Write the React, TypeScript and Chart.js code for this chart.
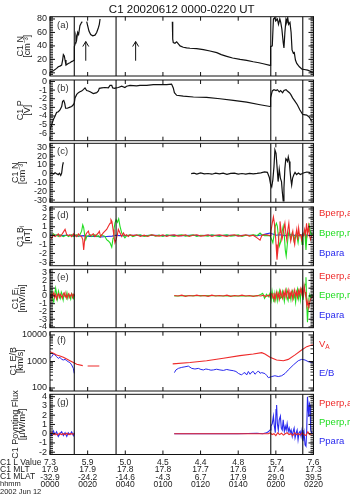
import React, { useEffect, useRef } from "react";
import { Chart, registerables } from "chart.js";
Chart.register(...registerables);

type Pt = [number, number | null];

const FONT = '"Liberation Sans", Arial, Helvetica, sans-serif';
const RED = "#ee2a2a";
const GREEN = "#22dd22";
const BLUE = "#2a2aee";
const INK = "#111111";
const TXT = "#222222";

// ---------- time axis (minutes after 00:00 UT) ----------
const titleText = "C1 20020612 0000-0220 UT";
const timeTicks = [0, 20, 40, 60, 80, 100, 120, 140];
const lValues = ["7.3", "5.9", "5.0", "4.5", "4.4", "4.8", "5.7", "7.6"];
const mltValues = ["17.9", "17.9", "17.8", "17.8", "17.7", "17.6", "17.4", "17.3"];
const mlatValues = ["-32.9", "-24.2", "-14.6", "-4.3", "6.7", "17.9", "29.0", "39.5"];
const hhmmLabels = ["0000", "0020", "0040", "0100", "0120", "0140", "0200", "0220"];
const rowHeaders = ["C1 L Value", "C1 MLT", "C1 MLAT", "hhmm", "2002 Jun 12"];
const markerTimes = [12.9, 35.1, 117.3, 134.3];
const arrowTimes = [19.0, 45.5];
const arrowFromTo = [18, 46.5];

// ---------- y tick values ----------
const nTicks = [0, 20, 40, 60, 80];
const pTicks = [-6, -5, -4, -3, -2, -1, 0];
const dnTicks = [-30, -20, -10, 0, 10, 20, 30];
const bTicks = [-3, -2, -1, 0, 1, 2, 3];
const eTicks = [-4, -3, -2, -1, 0, 1, 2, 3];
const vTicks = [100, 1000, 10000];
const sTicks = [-2, -1, 0, 1, 2, 3, 4];

// ---------- (a) density ----------
const density: Pt[] = [
  [0, 1.5], [1.8, 3], [3.5, 6.6], [4.4, 9], [5.3, 10], [6.2, 11.6], [6.7, 19], [7.1, 27], [7.6, 25], [8.0, 19],
  [8.5, 11.6], [9.7, 14], [10.6, 15], [11.5, 16.7], [12.4, 18], [12.9, 19], [12.95, 39], [13.5, 44.5], [13.8, 55],
  [14.2, 50], [14.7, 60], [15.2, 57], [15.9, 70], [16.8, 75], [17.2, 76], [18, null],
  [19.5, 76], [20.0, 70], [20.7, 62], [21.6, 57], [22.7, 55], [23.9, 56], [24.8, 60], [25.7, 67], [26.2, 72], [26.6, 80],
  [40, null],
  [65.0, 76], [65.2, 50], [65.5, 45], [66.4, 44], [67.3, 46], [68.2, 43], [69.1, 40], [70.8, 38], [72.6, 37],
  [74.4, 36.5], [77.9, 36], [81.5, 34.5], [85.0, 32.5], [88.6, 30], [91, 27], [93.9, 24.5], [97, 22], [101, 20],
  [104.5, 18.5], [108, 16.5], [111, 15], [113.3, 13.5], [116.9, 11],
  [117.2, 39], [118.1, 40], [118.7, 80], [119.4, 82], [119.9, 77], [120.8, 80], [121.4, 72], [122.1, 80], [122.6, 75],
  [123.2, 65], [123.9, 45], [124.3, 37], [124.8, 60], [125.4, 80], [125.9, 77], [126.3, 82], [126.8, 72], [127.5, 75],
  [128.1, 60], [128.6, 34], [129.3, 29], [129.8, 30], [130.4, 19], [131.1, 14], [132.5, 9], [133.9, 5.5], [135.1, 5],
  [136.9, 4], [139, 1.5], [140, 1],
];

// ---------- (b) potential ----------
const potential: Pt[] = [
  [0, -5.6], [0.9, -5.0], [1.8, -4.4], [2.7, -4.0], [3.5, -3.6], [4.4, -3.5], [5.3, -3.3], [6.2, -2.9], [6.7, -2.3],
  [7.3, -2.2], [7.8, -2.5], [8.3, -3.1], [9.2, -3.1], [10.3, -3.0], [11.5, -2.9], [12.4, -2.7], [12.9, -2.5],
  [13.3, -1.9], [14.2, -1.5], [15.1, -1.3], [15.9, -1.2], [16.8, -1.1], [17.7, -0.95], [18.6, -0.75], [19.5, -1.05],
  [20.4, -1.1], [21.3, -1.2], [23.0, -1.4], [24.8, -1.3], [25.7, -1.1], [26.2, -0.8], [27.5, -0.75], [29.2, -0.7],
  [31.0, -0.75], [31.9, -0.45], [32.8, -0.45], [33.3, -0.75], [34.5, -0.8], [35.1, -0.75], [36.3, -0.7], [38.1, -0.55],
  [39.8, -0.7], [40.7, -0.55], [42.5, -0.45], [46.0, -0.5], [47.8, -0.45], [51.4, -0.45], [54.9, -0.37], [58.4, -0.37],
  [62.0, -0.37], [64.6, -0.3], [65.5, -0.75], [66.1, -1.3], [67.3, -1.6], [70.8, -1.7], [76.2, -1.8], [83.2, -1.85],
  [90.3, -2.0], [97.4, -2.2], [104.5, -2.4], [111.6, -2.7], [116.9, -2.9], [117.2, -1.9], [118.1, -1.1], [119.0, -0.95],
  [120.1, -1.05], [120.8, -0.95], [121.8, -1.2], [122.5, -1.05], [123.6, -1.3], [124.3, -1.05], [125.4, -0.95],
  [126.1, -1.1], [127.2, -1.3], [127.9, -1.5], [128.9, -1.9], [130.2, -2.3], [131.4, -2.7], [132.8, -3.3], [134.2, -3.8],
  [134.9, -3.85], [136.4, -3.9], [137.8, -4.15], [139.0, -4.6],
];

// ---------- (c) density perturbation ----------
const densityPert: Pt[] = [
  [0, 0], [0.9, 0.8], [1.8, -0.4], [2.7, 1.0], [3.5, 0], [4.4, -1.1], [5.0, 0.5], [5.7, -1.9], [6.2, 0.8], [6.7, 9.5],
  [7.1, 13], [8, null],
  [75, 0], [76.5, 0.5], [78, -0.5], [80, 0.8], [82, -0.3], [84, 0.2], [86, -0.6], [88, 0.7], [90, -0.2], [92, 0.5],
  [94, -0.8], [96, 0.3], [98, 0.6], [100, -0.4], [102, 0.2], [104, -0.5], [106, 0.4], [108, -0.2], [110, 0.3],
  [112, 1.0], [114, 2.0], [115.5, 1.5], [116.5, -4], [117.2, -12], [117.8, -15], [118.4, -7], [119.0, 8], [119.5, 27],
  [120.1, 23], [120.7, 6], [121.2, -9], [121.8, 5], [122.4, -5], [123.0, -9], [123.4, -20], [123.9, -31], [124.3, -16],
  [124.8, 6], [125.3, 17], [125.7, 16], [126.2, 14], [126.6, 19], [127.1, 14], [127.5, 4], [127.9, -5], [128.4, -13],
  [128.9, -5], [129.6, -1], [130.2, 1.5], [131, -1], [132, 0.8], [133, -1], [134.6, 0.8], [136.4, 1.9], [137.8, 1.5],
  [139, -0.4],
];

// ---------- (d) magnetic field ----------
const bPerpA: Pt[] = [
  [0, -0.1], [0.9, -0.3], [1.8, 0.1], [2.7, -0.1], [3.5, 0], [4.4, 0.2], [5.3, -0.1], [6.2, 0.1], [7.1, 0.4], [8.0, 0.7],
  [8.9, 0.1], [9.7, 0], [10.6, 0.1], [11.5, -0.1], [12.4, 0.2], [12.9, 0], [13.3, 0.1], [14.2, -0.1], [15.1, 0.2],
  [15.9, 0], [16.8, -0.1], [17.4, -0.45], [17.9, -1.6], [18.4, -0.45], [19.0, 0.1], [19.5, 0.3], [20.4, 0.5], [20.9, 0.1],
  [21.6, 0], [22.3, 0.1], [23.0, 0.2], [23.9, -0.1], [24.8, 0.1], [25.7, 0.3], [26.2, 0.5], [26.9, -0.1], [27.6, 0.1],
  [28.3, 0.3], [29.2, 0.5], [30.1, 0.7], [31.0, 1.05], [31.9, 1.4], [32.4, 1.8], [32.9, 1.6], [33.5, 0.7], [34.0, -0.1],
  [34.5, -0.8], [35.1, -0.45], [35.8, 0.1], [36.3, 0.7], [37.2, 0.3], [38.1, -0.1], [39.0, 0.3], [39.8, 0], [40.7, 0.1],
  [41.6, -0.1], [42.5, 0.1], [44.3, 0], [46, 0.1], [48, -0.1], [50, 0.05], [52, -0.1], [54, 0.1], [56, 0], [58, -0.05],
  [60, 0.1], [62, -0.1], [64, 0.05], [66, 0.1], [68, -0.05], [70, 0], [72, 0.1], [74, -0.1], [76, 0.05], [78, 0.1],
  [80, -0.05], [82, 0], [84, 0.1], [86, -0.1], [88, 0.05], [90, 0.1], [92, 0], [94, -0.1], [96, 0.05], [98, 0.1],
  [100, -0.05], [102, 0], [104, 0.1], [106, -0.05], [108, 0.05], [110, -0.25], [111.6, -0.5], [112.5, 0], [113.4, 0.1],
  [115.1, 0.1], [116.9, 0], [117.4, 0.5], [118.1, 1.4], [118.7, 2.1], [119.2, 1.4], [119.7, 0.3], [120.1, -1.0],
  [120.6, -2.7], [121.1, -1.6], [121.7, 0.3], [122.2, 1.6], [122.7, 0.7], [123.2, -0.45], [123.7, 0], [124.3, 0.85],
  [124.8, 1.4], [125.3, 0.3], [125.8, -0.45], [126.4, 0.7], [126.9, 1.4], [127.4, 0.1], [127.9, -0.6], [128.4, 0],
  [129.0, 0.5], [129.5, -0.45], [130.0, -1.0], [130.5, 0], [131.1, 0.7], [131.6, -0.45], [132.1, 0.85], [132.6, 0],
  [133.2, 0.1], [133.7, -0.45], [134.2, 0.2], [134.7, 0], [135.3, 0.7], [135.8, 0.1], [136.3, 1.4], [136.8, 0.2],
  [137.4, 1.05], [137.9, 0], [138.4, -0.45], [139, 0], [140, 0.1],
];
const bPerpR: Pt[] = [
  [0, 0.1], [0.9, 0], [1.8, 0.2], [2.7, 0.05], [3.5, 0.1], [4.4, -0.1], [5.3, 0.1], [6.2, 0], [7.1, -0.1], [8.0, 0],
  [8.9, 0.1], [9.7, -0.1], [10.6, 0], [11.5, 0.1], [12.4, -0.1], [13.3, 0], [14.2, 0.1], [15.1, -0.1], [15.9, 0.1],
  [16.8, 0.5], [17.4, 1.2], [17.9, 0.9], [18.4, 0.1], [19.0, -0.45], [19.5, -0.1], [20.4, 0], [21.3, 0.1], [22.1, -0.1],
  [23.0, 0], [23.9, 0.1], [24.8, -0.1], [25.7, 0], [26.6, -0.2], [27.5, 0.1], [28.3, 0], [29.2, -0.1], [30.1, -0.45],
  [31.0, -0.6], [31.9, -0.8], [32.8, -1.3], [33.5, -0.3], [34.0, 0.7], [34.5, 1.4], [35.1, 1.8], [35.8, 1.5],
  [36.5, 1.9], [37.2, 1.05], [38.1, 0.3], [39.0, 0], [39.8, -0.25], [40.7, 0], [42.5, 0.1], [44, -0.1], [46, 0.05],
  [48, 0.1], [50, -0.1], [52, 0], [54, 0.1], [56, -0.05], [58, 0.05], [60, -0.1], [62, 0.1], [64, 0], [66, -0.1],
  [68, 0.05], [70, 0.1], [72, -0.05], [74, 0], [76, 0.1], [78, -0.1], [80, 0.05], [82, 0], [84, -0.05], [86, 0.1],
  [88, 0], [90, -0.1], [92, 0.05], [94, 0.1], [96, -0.05], [98, 0], [100, 0.1], [102, -0.1], [104, 0.05], [106, 0],
  [108, 0.1], [110, 0], [111.6, 0.3], [112.5, 0.1], [114, 0], [116.9, 0], [117.8, -0.45], [118.4, -0.8], [119.0, 0],
  [119.7, 1.05], [120.3, 1.4], [120.8, 1.05], [121.3, 0], [121.8, -1.2], [122.4, -0.8], [122.9, -0.2], [123.4, 0.5],
  [123.9, 1.05], [124.5, 0], [125.0, -1.6], [125.5, -2.3], [126.0, -1.2], [126.6, 0.1], [127.1, 0.5], [127.6, 0],
  [128.1, -0.3], [128.7, 0.3], [129.2, 0], [129.7, -0.6], [130.2, 0], [130.8, 0.1], [131.3, -0.2], [131.8, -0.8],
  [132.3, 0], [132.9, 0.1], [133.4, 0], [133.9, -1.0], [134.4, 0], [135.0, 0.3], [135.5, 0.1], [136.0, -1.6],
  [136.5, 0], [137.1, 0.5], [137.6, 1.4], [138.1, 0.7], [138.7, 0.1], [139.2, 0.2], [140, 0],
];
const bPara: Pt[] = [
  [0, 0.1], [3, 0.05], [6, 0], [9, 0.05], [12, 0], [15, -0.05], [18, 0], [21, -0.1], [24, -0.05], [27, -0.15],
  [30, -0.1], [33, -0.05], [35, 0.05], [37, 0], [40, 0], [45, 0.05], [50, 0], [55, 0.05], [60, 0], [65, 0.05], [70, 0],
  [75, 0.05], [80, 0], [85, 0.05], [90, 0], [95, 0.05], [100, 0], [105, 0.05], [110, 0], [113, 0.1], [115, 0.2],
  [117, 0.3], [118, 0.2], [120, 0.05], [122, 0.1], [125, 0], [128, 0.1], [131, 0], [134, 0.1], [137, 0.05], [140, 0.1],
];

// ---------- (e) electric field ----------
const ePerpA: Pt[] = [
  [0, 0.2], [0.5, -0.3], [1.0, 0.3], [1.5, 0], [2.0, 0.4], [2.5, -0.2], [3.0, 0.2], [3.5, -0.4], [4.0, 0.1], [4.5, 0.3],
  [5.0, -0.2], [5.5, 0.2], [6.0, 0], [6.5, -0.3], [7.0, 0.2], [7.5, 0.4], [8.0, -0.1], [8.5, 0.2], [9.0, -0.3],
  [9.5, 0.1], [10.0, 0.3], [10.5, -0.2], [11.0, 0.1], [11.5, 0.3], [12.0, -0.2], [12.5, 0.2], [13.0, 0], [14, null],
  [66, 0.05], [68, 0], [70, 0.1], [72, -0.05], [74, 0.05], [76, 0], [78, 0.1], [80, 0], [82, 0.05], [84, -0.05],
  [86, 0.1], [88, 0], [90, 0.05], [92, 0], [94, 0.1], [96, -0.05], [98, 0.05], [100, 0], [102, 0.1], [104, 0],
  [106, 0.05], [108, -0.05], [110, 0.05], [112, 0], [113.5, 0.1], [114.5, -0.1], [115.5, 0.05], [116.5, 0.1],
  [117, -0.2], [117.5, 0.3], [118, 0.2], [118.5, -0.3], [119, 0.4], [119.5, -0.5], [120, 0.2], [120.5, 0.5],
  [121, -0.2], [121.5, 0.3], [122, -0.4], [122.5, 0.6], [123, 0.1], [123.5, -0.3], [124, 0.5], [124.5, 0], [125, 0.7],
  [125.5, -0.2], [126, 0.4], [126.5, 0.8], [127, -0.3], [127.5, 0.5], [128, 0.1], [128.5, 0.6], [129, -0.4],
  [129.5, 0.3], [130, 0.8], [130.5, 0], [131, 0.5], [131.5, -0.2], [132, 0.7], [132.5, 0.2], [133, 0.9], [133.5, 0.3],
  [134, 1.0], [134.5, -0.2], [135, 1.3], [135.5, 0.5], [136, -0.3], [136.5, -1.3], [137, -0.6], [137.5, -1.5],
  [138, -0.8], [138.5, -0.4], [139, -0.2], [140, 0],
];
const ePerpR: Pt[] = [
  [0, 0.3], [0.5, -0.2], [1, 0.6], [1.5, -0.5], [2, -0.8], [2.5, 0.2], [3, 1.0], [3.5, 0.3], [4, -0.4], [4.5, 0.6],
  [5, 0.1], [5.5, -0.3], [6, 0.5], [6.5, 0.2], [7, -0.5], [7.5, 0.3], [8, 0.1], [8.5, -0.2], [9, 0.4], [9.5, -0.3],
  [10, 0.2], [10.5, 0], [11, -0.4], [11.5, 0.3], [12, 0.1], [12.5, -0.3], [13, 0.2], [14, null],
  [66, 0], [80, 0.05], [95, 0], [110, 0], [112, 0.2], [113, 0.35], [114, -0.3], [115, 0.2], [116, -0.1], [117, 0.4],
  [117.5, -0.5], [118, 0.6], [118.5, -0.2], [119, -0.8], [119.5, 0.3], [120, -0.5], [120.5, 0.4], [121, -0.6],
  [121.5, 0.2], [122, 0.7], [122.5, -0.3], [123, -0.2], [123.5, 0.6], [124, 0.1], [124.5, -0.7], [125, 0.3],
  [125.5, 0.8], [126, -0.2], [126.5, -0.6], [127, 0.4], [127.5, 0.2], [128, -0.5], [128.5, 0.5], [129, 0.7],
  [129.5, -0.3], [130, 0.2], [130.5, -0.8], [131, 0.4], [131.5, 0.9], [132, -0.3], [132.5, 0.5], [133, -0.5],
  [133.5, 0.8], [134, 1.0], [134.5, -0.5], [135, 0.6], [135.5, 1.5], [136, 2.4], [136.4, -1.0], [136.8, -3.4],
  [137.2, -1.5], [137.6, -0.3], [138, 0.2], [138.5, -0.2], [139, 0.1], [140, 0],
];

// ---------- (f) speeds ----------
const alfvenSpeed: Pt[] = [
  [0, 2350], [1.8, 2050], [3.5, 1770], [5.3, 1620], [7.1, 1440], [8.9, 1240], [10.6, 1070], [12.4, 910], [14.2, 780],
  [17.4, 700], [18.5, null], [20.0, 680], [23.0, 680], [26.2, 680], [40, null],
  [65.2, 810], [74.4, 910], [83.2, 1070], [92.1, 1320], [100.9, 1660], [108, 1910], [112.5, 2150], [114.2, 1900],
  [116.9, 1440], [120.4, 1140], [124, 1070], [126.6, 1200], [130.2, 1770], [133.7, 2700], [136.4, 3630], [139, 4200],
  [140, 4300],
];
const eOverB: Pt[] = [
  [0, 1310], [0.9, 1520], [1.8, 1910], [2.7, 1770], [3.5, 1520], [4.4, 1310], [5.3, 1440], [6.2, 1200], [7.1, 1140],
  [8.0, 1200], [8.9, 1070], [9.7, 980], [10.6, 910], [11.5, 740], [12.4, 550], [12.9, 355], [20, null],
  [66.1, 380], [66.9, 480], [68.2, 550], [70.0, 600], [71.7, 630], [73.5, 670], [75.3, 550], [77.0, 520], [78.8, 550],
  [80.2, 500], [81.5, 480], [82.8, 520], [84.1, 500], [85.5, 470], [86.8, 480], [88.5, 510], [90.3, 480], [92.1, 460],
  [93.9, 500], [95.6, 470], [97.4, 450], [98.8, 420], [100.1, 355], [101.8, 310], [102.7, 360], [103.6, 380],
  [104.5, 310], [105.4, 420], [106.3, 330], [107.2, 400], [108, 420], [108.9, 330], [109.8, 380], [110.7, 440],
  [111.6, 360], [112.5, 380], [114.2, 350], [115.1, 300], [116, 245], [117.8, 270], [119.5, 290], [121.3, 270],
  [123.1, 290], [124.9, 355], [126.6, 480], [129.3, 740], [131.9, 1070], [133.7, 1200], [135.5, 1140], [137.3, 980],
  [139, 910], [140, 880],
];

// ---------- (g) Poynting flux ----------
const sPerpA: Pt[] = [
  [0, 0], [1, 0.1], [2, -0.1], [3, 0], [4, -0.15], [5, 0.05], [6, -0.1], [7, 0], [8, -0.1], [9, 0.05], [10, -0.1],
  [11, 0], [12, -0.05], [13, 0], [14, null],
  [66, 0], [116, 0], [117, 0.1], [118, -0.1], [119, 0], [120, -0.2], [121, 0.1], [122, -0.1], [123, 0.05],
  [124, -0.15], [125, 0], [126, 0.1], [127, -0.1], [128, 0], [129, -0.2], [130, 0.1], [131, -0.1], [132, 0],
  [133, -0.15], [134, 0.1], [135, -0.1], [136, -0.2], [137, 0.2], [138, -0.1], [139, 0], [140, 0],
];
const sPara: Pt[] = [
  [0, 0.1], [0.9, -0.2], [1.8, 0.3], [2.7, -0.1], [3.5, 0.2], [4.4, -0.3], [5.3, 0], [6.2, 0.2], [7.1, -0.2],
  [8.0, 0.1], [8.9, -0.3], [9.7, 0.1], [10.6, -0.1], [11.5, 0.2], [12.4, -0.2], [13.0, 0.1], [14, null],
  [66, 0], [100, 0], [110, 0.05], [113, 0], [115, 0.1], [116, 0.2], [116.9, 0.4], [117.4, 0.8], [118.1, 1.1],
  [118.7, 1.9], [119.2, 0.8], [119.7, 0.1], [120.1, 2.6], [120.4, 3.1], [120.8, 1.1], [121.3, 0.4], [121.8, 1.5],
  [122.4, 1.9], [122.9, 0.6], [123.4, 0.4], [123.9, 1.5], [124.5, 0.25], [125.0, 0.8], [125.5, 0.4], [126.0, 1.1],
  [126.6, 0.25], [127.1, 0.6], [127.6, 0.1], [128.1, 0.4], [128.7, -0.3], [129.2, 0.25], [129.7, 0.6], [130.2, -0.45],
  [130.8, 0.1], [131.3, 0.4], [131.8, -0.65], [132.3, 0.1], [132.9, 0.25], [133.4, -0.3], [133.9, 0.4], [134.4, -0.8],
  [135.0, 0.1], [135.5, -1.2], [136.0, -1.35], [136.4, 0.4], [136.8, 4.0], [137.1, 2.9], [137.5, 1.8], [137.8, 3.3],
  [138.2, 3.1], [138.5, 0.4], [139, 0.1], [140, 0],
];

// ---------- panel layout & styles ----------
type SetCfg = { data: Pt[]; color: string; width: number };
type RightLabel = { text: string; sub?: string; color: string; y: number };
type PanelCfg = {
  key: string; top: number; bottom: number; min: number; max: number; log?: boolean;
  ticks: number[]; minor: number; title: string[]; titlePad: number; letter: string;
  sets: SetCfg[]; right?: RightLabel[]; arrows?: boolean; first?: boolean; last?: boolean;
};

const panels: PanelCfg[] = [
  { key: "a", top: 16.7, bottom: 76, min: -4.7, max: 83.4, ticks: nTicks, minor: 2.5, title: ["C1 N", "[cm⁻³]"], titlePad: 17,
    letter: "(a)", sets: [{ data: density, color: INK, width: 1.2 }], arrows: true, first: true },
  { key: "b", top: 80, bottom: 140.7, min: -6.86, max: 0.17, ticks: pTicks, minor: 0.2, title: ["C1 P", "[V]"], titlePad: 17,
    letter: "(b)", sets: [{ data: potential, color: INK, width: 1.2 }] },
  { key: "c", top: 143.3, bottom: 202.3, min: -32.6, max: 34.6, ticks: dnTicks, minor: 2, title: ["C1 N", "[cm⁻³]"], titlePad: 12,
    letter: "(c)", sets: [{ data: densityPert, color: INK, width: 1.2 }] },
  { key: "d", top: 207, bottom: 265.7, min: -3.38, max: 3.22, ticks: bTicks, minor: 0.2, title: ["C1 Bᵢ", "[nT]"], titlePad: 17,
    letter: "(d)", sets: [{ data: bPerpA, color: RED, width: 1.1 }, { data: bPerpR, color: GREEN, width: 1.1 }, { data: bPara, color: BLUE, width: 1.1 }],
    right: [{ text: "Bperp,a", color: RED, y: 213.3 }, { text: "Bperp,r", color: GREEN, y: 233.3 }, { text: "Bpara", color: BLUE, y: 253.3 }] },
  { key: "e", top: 269.3, bottom: 327.7, min: -4.09, max: 3.43, ticks: eTicks, minor: 0.2, title: ["C1 Eᵢ", "[mV/m]"], titlePad: 12,
    letter: "(e)", sets: [{ data: ePerpA, color: RED, width: 1.1 }, { data: ePerpR, color: GREEN, width: 1.1 }],
    right: [{ text: "Eperp,a", color: RED, y: 276.7 }, { text: "Eperp,r", color: GREEN, y: 295 }, { text: "Epara", color: BLUE, y: 315.7 }] },
  { key: "f", top: 331.7, bottom: 391, min: 77, max: 13300, log: true, ticks: vTicks, minor: 0, title: ["C1 E/B", "[km/s]"], titlePad: 10,
    letter: "(f)", sets: [{ data: alfvenSpeed, color: RED, width: 1.1 }, { data: eOverB, color: BLUE, width: 1 }],
    right: [{ text: "V", sub: "A", color: RED, y: 344 }, { text: "E/B", color: BLUE, y: 373.3 }] },
  { key: "g", top: 394.3, bottom: 454.5, min: -2.25, max: 4.26, ticks: sTicks, minor: 0.2, title: ["C1 Poynting Flux", "[μW/m²]"], titlePad: 12,
    letter: "(g)", sets: [{ data: sPerpA, color: RED, width: 1.1 }, { data: sPara, color: BLUE, width: 1.1 }],
    right: [{ text: "Pperp,a", color: RED, y: 403.3 }, { text: "Pperp,r", color: GREEN, y: 422.3 }, { text: "Ppara", color: BLUE, y: 441.7 }],
    last: true },
];

const W = 350;
const H = 496;
const PLOT_RIGHT = 313.5;
const rowY = [462.7, 469.9, 477.1, 484.3, 491.5];
const rowFont = [8.5, 8.5, 8.5, 7.5, 7.5];

// y transform: decades for the logarithmic panel
const tf = (cfg: PanelCfg, v: number) => (cfg.log ? Math.log10(v) : v);

function minorValues(cfg: PanelCfg): number[] {
  const out: number[] = [];
  if (cfg.log) {
    for (const d of [10, 100, 1000, 10000]) {
      for (let m = 2; m <= 9; m++) {
        const v = m * d;
        if (v > cfg.min && v < cfg.max) out.push(v);
      }
    }
  } else {
    const k0 = Math.ceil(cfg.min / cfg.minor);
    const k1 = Math.floor(cfg.max / cfg.minor);
    for (let k = k0; k <= k1; k++) out.push(k * cfg.minor);
  }
  return out;
}

function decorPlugin(cfg: PanelCfg) {
  return {
    id: "decor" + cfg.key,
    afterDatasetsDraw(chart: any) {
      const { ctx, chartArea } = chart;
      const { left, right, top, bottom } = chartArea;
      const xs = chart.scales.x;
      const ys = chart.scales.y;
      const py = (v: number) => ys.getPixelForValue(tf(cfg, v));
      ctx.save();
      ctx.strokeStyle = INK;
      ctx.lineWidth = 1.1;
      ctx.beginPath();
      for (const t of markerTimes) {
        const px = xs.getPixelForValue(t);
        ctx.moveTo(px, top);
        ctx.lineTo(px, bottom);
      }
      ctx.stroke();
      ctx.lineWidth = 1;
      ctx.strokeRect(left, top, right - left, bottom - top);
      ctx.beginPath();
      for (const t of timeTicks) {
        const px = xs.getPixelForValue(t);
        ctx.moveTo(px, top);
        ctx.lineTo(px, top + 4);
        ctx.moveTo(px, bottom);
        ctx.lineTo(px, bottom - 4);
      }
      for (const v of cfg.ticks) {
        const y = py(v);
        ctx.moveTo(left, y);
        ctx.lineTo(left + 5, y);
        ctx.moveTo(right, y);
        ctx.lineTo(right - 5, y);
      }
      ctx.stroke();
      ctx.lineWidth = 0.9;
      ctx.beginPath();
      for (const v of minorValues(cfg)) {
        const y = py(v);
        ctx.moveTo(left, y);
        ctx.lineTo(left + 3, y);
        ctx.moveTo(right, y);
        ctx.lineTo(right - 3, y);
      }
      ctx.stroke();

      // arrows in panel (a)
      if (cfg.arrows) {
        ctx.lineWidth = 1;
        ctx.beginPath();
        for (const t of arrowTimes) {
          const px = xs.getPixelForValue(t);
          const y0 = py(arrowFromTo[0]);
          const y1 = py(arrowFromTo[1]);
          ctx.moveTo(px, y0);
          ctx.lineTo(px, y1);
          ctx.moveTo(px - 3, y1 + 5);
          ctx.lineTo(px, y1);
          ctx.lineTo(px + 3, y1 + 5);
        }
        ctx.stroke();
      }

      ctx.textBaseline = "middle";

      // panel letter
      ctx.fillStyle = "#333";
      ctx.font = `9.5px ${FONT}`;
      ctx.textAlign = "left";
      ctx.fillText(cfg.letter, left + 7, top + 8.5);

      // right-hand labels
      if (cfg.right) {
        for (const r of cfg.right) {
          ctx.fillStyle = r.color;
          ctx.font = `9.5px ${FONT}`;
          ctx.textAlign = "left";
          ctx.fillText(r.text, 319, r.y);
          if (r.sub) {
            const w = ctx.measureText(r.text).width;
            ctx.font = `6.5px ${FONT}`;
            ctx.fillText(r.sub, 319 + w, r.y + 3);
          }
        }
      }

      // row headers of the orbit table
      if (cfg.last) {
        ctx.fillStyle = TXT;
        ctx.textAlign = "left";
        rowHeaders.forEach((h, i) => {
          ctx.font = `${rowFont[i]}px ${FONT}`;
          ctx.fillText(h, 0, rowY[i]);
        });
      }
      ctx.restore();
    },
  };
}

function buildConfig(cfg: PanelCfg): any {
  const datasets = cfg.sets.map((s) => ({
    data: s.data.map(([x, y]) => ({ x, y: y === null ? null : tf(cfg, y) })),
    borderColor: s.color,
    borderWidth: s.width,
    pointRadius: 0,
    tension: 0,
    fill: false,
    spanGaps: false,
  }));
  return {
    type: "line",
    data: { datasets },
    plugins: [decorPlugin(cfg)],
    options: {
      animation: false,
      responsive: false,
      events: [],
      layout: {
        padding: {
          top: cfg.first ? 0 : cfg.top,
          bottom: cfg.last ? 0 : H - cfg.bottom,
          left: 0,
          right: W - PLOT_RIGHT,
        },
      },
      plugins: {
        legend: { display: false },
        tooltip: { enabled: false },
        title: {
          display: !!cfg.first,
          text: titleText,
          fullSize: false,
          color: INK,
          font: { family: FONT, size: 11.5, weight: "normal", lineHeight: 1.15 },
          padding: { top: 3, bottom: cfg.top - 3 - 11.5 * 1.15 },
        },
      },
      scales: {
        x: {
          type: "linear",
          min: 0,
          max: 140,
          display: !!cfg.last,
          afterBuildTicks: (s: any) => {
            s.ticks = timeTicks.map((v) => ({ value: v }));
          },
          afterFit: (s: any) => {
            if (cfg.last) s.height = H - cfg.bottom;
          },
          grid: { display: false, drawTicks: false },
          border: { display: false },
          ticks: {
            autoSkip: false,
            maxRotation: 0,
            minRotation: 0,
            padding: 4.6,
            color: TXT,
            font: { family: FONT, size: 8.5, lineHeight: 0.85 },
            callback: (_v: any, i: number) => [lValues[i], mltValues[i], mlatValues[i], hhmmLabels[i]],
          },
        },
        y: {
          type: "linear",
          min: tf(cfg, cfg.min),
          max: tf(cfg, cfg.max),
          afterBuildTicks: (s: any) => {
            s.ticks = cfg.ticks.map((v) => ({ value: tf(cfg, v) }));
          },
          afterFit: (s: any) => {
            s.width = 50;
          },
          grid: { display: false, drawTicks: false },
          border: { display: false },
          ticks: {
            autoSkip: false,
            padding: 3,
            color: TXT,
            font: { family: FONT, size: 9 },
            callback: (v: any, i: number) => String(cfg.ticks[i]),
          },
          title: {
            display: true,
            text: cfg.title,
            color: TXT,
            font: { family: FONT, size: 9, lineHeight: 0.78 },
            padding: { top: cfg.titlePad, bottom: 0 },
          },
        },
      },
    },
  };
}

function Panel({ cfg }: { cfg: PanelCfg }) {
  const ref = useRef<HTMLCanvasElement>(null);
  useEffect(() => {
    const chart = new Chart(ref.current as HTMLCanvasElement, buildConfig(cfg));
    return () => chart.destroy();
  }, [cfg]);
  return (
    <canvas
      ref={ref}
      width={W}
      height={H}
      style={{ position: "absolute", left: 0, top: 0, width: W, height: H }}
    />
  );
}

export default function App() {
  return (
    <div
      style={{
        position: "fixed",
        left: 0,
        top: 0,
        width: W,
        height: H,
        background: "#ffffff",
        overflow: "hidden",
      }}
    >
      {panels.map((p) => (
        <Panel key={p.key} cfg={p} />
      ))}
    </div>
  );
}
